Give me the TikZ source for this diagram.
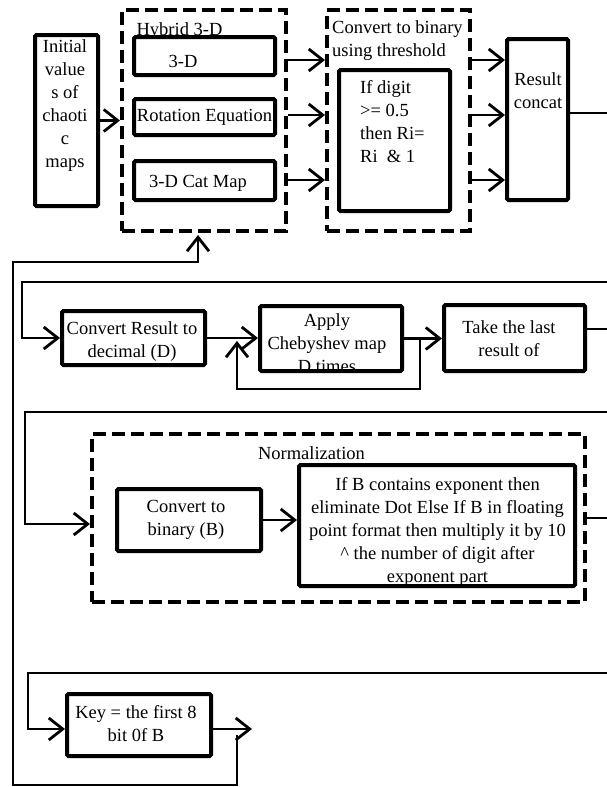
\documentclass[tikz,border=0pt]{standalone}
\usepackage{fontspec}
\setmainfont{Liberation Serif}
\usetikzlibrary{arrows.meta}
\begin{document}
\begin{tikzpicture}[x=1pt,y=-1pt,
  every node/.style={font=\fontsize{18.5}{23}\selectfont},
  box/.style={draw,line width=4pt,fill=white,inner sep=0pt,rounded corners=1.5pt},
  dbox/.style={draw,line width=4pt,dash pattern=on 13pt off 6pt,inner sep=0pt},
  txt/.style={inner sep=0pt,align=center},
  ltxt/.style={inner sep=0pt,align=left,anchor=west},
  conn/.style={line width=2.8pt},
  arr/.style={line width=2.8pt,-{Straight Barb[length=14pt,width=22pt]}}]
\useasboundingbox (0,0) rectangle (607,787);
\fill[white] (0,0) rectangle (607,787);

% top row
\node[box,minimum width=63pt,minimum height=171pt] (init) at (66.5,120.5) {};
\node[txt] (initT) at (65,106) {Initial\\value\\s of\\chaoti\\c\\maps};

\node[dbox,minimum width=164pt,minimum height=221pt] (hyb) at (204,120.5) {};
\node[txt] (hybT) at (179.5,31) {Hybrid 3-D};
\node[box,minimum width=141pt,minimum height=38pt] (d3) at (204.5,56) {};
\node[txt] (d3T) at (183,61) {3-D};
\node[box,minimum width=141pt,minimum height=36pt] (rot) at (204.5,117) {Rotation Equation};
\node[box,minimum width=141pt,minimum height=39pt] (cat) at (204.5,180.5) {};
\node[txt] (catT) at (198,183.5) {3-D Cat Map};

\node[dbox,minimum width=143pt,minimum height=221pt] (cvb) at (398.5,120.5) {};
\node[ltxt] (cvbT) at (332,41) {Convert to binary\\using threshold};
\node[box,minimum width=111pt,minimum height=141pt] (dig) at (394.5,140.5) {};
\node[ltxt] (digT) at (360,122) {If digit\\>= 0.5\\then Ri=\\Ri\ \ \& 1};
\node[box,minimum width=61pt,minimum height=161pt] (res) at (537.5,119.5) {};
\node[txt] (resT) at (538,91) {Result\\concat};

% second row
\node[box,minimum width=143pt,minimum height=54pt] (cr) at (133.5,338) {};
\node[txt] (crT) at (132,342) {Convert Result to\\decimal (D)};
\node[box,minimum width=142pt,minimum height=65pt] (ap) at (331,338.5) {};
\begin{scope}
\clip (ap.north west) rectangle (ap.south east);
\node[txt] (apT) at (327,343) {Apply\\Chebyshev map\\D times};
\end{scope}
\node[box,minimum width=141pt,minimum height=66pt] (tk) at (514.5,338) {};
\node[txt] (tkT) at (509,339) {Take the last\\result of};

% normalization
\node[dbox,minimum width=493pt,minimum height=168pt] (nm) at (338.5,518) {};
\node[txt] (nmT) at (311.5,453) {Normalization};
\node[box,minimum width=144pt,minimum height=62pt] (cb) at (189,520) {};
\node[txt] (cbT) at (186,520) {Convert to\\binary (B)};
\node[box,minimum width=276pt,minimum height=121pt] (ib) at (437,525.5) {};
\begin{scope}
\clip (ib.north west) rectangle (ib.south east);
\node[txt] (ibT) at (437.5,532) {If B contains exponent then\\eliminate Dot Else If B in floating\\point format then multiply it by 10\\\textasciicircum\ the number of digit after\\exponent part};
\end{scope}

% key
\node[box,minimum width=144pt,minimum height=62pt] (key) at (139,725) {};
\node[txt] (keyT) at (136,724) {Key = the first 8\\bit 0f B};

% coordinates
\coordinate (y1) at (0,60);
\coordinate (y2) at (0,115);
\coordinate (y3) at (0,180);
\coordinate (rOut) at (607,113);
\coordinate (kb) at (237,735);
\coordinate (lb) at (13,785);
\coordinate (hb) at (198,262);
\coordinate (hin) at (198,235);
\coordinate (in2) at (607,282);
\coordinate (lp) at (420,338.5);
\coordinate (lt) at (237,341);
\coordinate (o3) at (607,329);
\coordinate (in4) at (607,412);
\coordinate (yA) at (0,524);
\coordinate (o5) at (607,518);
\coordinate (in6) at (607,673);
\coordinate (yK) at (0,729);
\coordinate (ke) at (252,729);

% connectors
\draw[arr] (init.east) -- (init.east -| hyb.west);
\draw[arr] (y1 -| hyb.east) -- (y1 -| cvb.west);
\draw[arr] (y2 -| hyb.east) -- (y2 -| cvb.west);
\draw[arr] (y3 -| hyb.east) -- (y3 -| cvb.west);
\draw[arr] (y1 -| cvb.east) -- (y1 -| res.west);
\draw[arr] (y2 -| cvb.east) -- (y2 -| res.west);
\draw[arr] (y3 -| cvb.east) -- (y3 -| res.west);
\draw[conn] (rOut -| res.east) -- (rOut);

\draw[arr] (kb) |- (lb) |- (hb) -- (hin);

\draw[arr] (in2) -- (22,282) |- (cr.west);
\draw[arr] (cr.east) -- (cr.east -| ap.west);
\draw[arr] (ap.east) -- (ap.east -| tk.west);
\draw[arr] (lp) -- (420,389) -| (lt);
\draw[conn] (o3 -| tk.east) -- (o3);

\draw[arr] (in4) -- (25,412) |- (yA -| nm.west);
\draw[arr] (cb.east) -- (cb.east -| ib.west);
\draw[conn] (o5 -| nm.east) -- (o5);

\draw[arr] (in6) -- (28,673) |- (yK -| key.west);
\draw[arr] (yK -| key.east) -- (ke);
\end{tikzpicture}
\end{document}
